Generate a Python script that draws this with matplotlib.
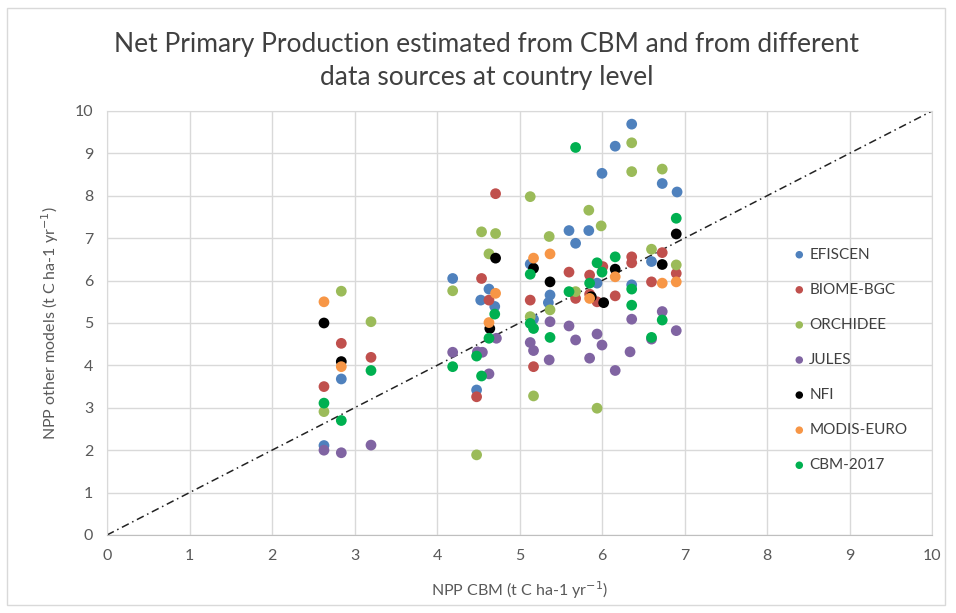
import matplotlib.pyplot as plt
from matplotlib.patches import Rectangle

plt.rcParams['font.family'] = ['Lato', 'DejaVu Sans']

# NPP CBM (x) vs NPP from other sources (y), t C ha-1 yr-1
efiscen_x = [2.63, 2.84, 4.19, 4.48, 4.53, 4.63, 4.70, 5.13, 5.17, 5.35, 5.37, 5.60, 5.68, 5.84, 5.94, 6.00, 6.16, 6.36, 6.36, 6.60, 6.73, 6.91]
efiscen_y = [2.11, 3.68, 6.05, 3.42, 5.54, 5.80, 5.39, 6.39, 5.09, 5.48, 5.66, 7.18, 6.88, 7.18, 5.94, 8.53, 9.17, 9.69, 5.90, 6.45, 8.29, 8.09]

biome_x = [2.63, 2.84, 3.20, 4.48, 4.54, 4.63, 4.71, 5.13, 5.17, 5.60, 5.68, 5.85, 5.85, 5.94, 6.01, 6.16, 6.36, 6.36, 6.60, 6.73, 6.90]
biome_y = [3.50, 4.52, 4.19, 3.26, 6.05, 5.54, 8.05, 5.54, 3.97, 6.20, 5.58, 6.13, 5.68, 5.50, 6.33, 5.64, 6.56, 6.42, 5.97, 6.66, 6.17]

orchidee_x = [2.63, 2.84, 3.20, 4.19, 4.48, 4.54, 4.63, 4.71, 5.13, 5.13, 5.17, 5.36, 5.37, 5.68, 5.84, 5.94, 5.99, 6.36, 6.36, 6.60, 6.73, 6.90]
orchidee_y = [2.91, 5.75, 5.03, 5.76, 1.89, 7.15, 6.63, 7.11, 7.98, 5.15, 3.28, 7.04, 5.31, 5.74, 7.66, 2.99, 7.29, 9.25, 8.57, 6.74, 8.63, 6.37]

jules_x = [2.63, 2.84, 3.20, 4.19, 4.49, 4.55, 4.63, 4.72, 5.13, 5.17, 5.36, 5.37, 5.60, 5.68, 5.85, 5.94, 6.00, 6.16, 6.34, 6.36, 6.60, 6.73, 6.90]
jules_y = [2.00, 1.94, 2.12, 4.31, 4.32, 4.31, 3.80, 4.64, 4.54, 4.35, 4.13, 5.03, 4.93, 4.60, 4.17, 4.74, 4.48, 3.88, 4.32, 5.09, 4.62, 5.27, 4.82]

nfi_x = [2.63, 2.84, 4.64, 4.71, 5.17, 5.37, 5.87, 6.02, 6.16, 6.73, 6.90]
nfi_y = [5.00, 4.09, 4.87, 6.53, 6.29, 5.97, 5.62, 5.48, 6.27, 6.38, 7.10]

modis_x = [2.63, 2.84, 4.63, 4.71, 5.17, 5.37, 5.85, 6.16, 6.73, 6.90]
modis_y = [5.50, 3.97, 5.01, 5.70, 6.53, 6.63, 5.58, 6.09, 5.94, 5.97]

cbm2017_x = [2.63, 2.84, 3.20, 4.19, 4.48, 4.54, 4.63, 4.70, 5.13, 5.13, 5.17, 5.37, 5.60, 5.68, 5.85, 5.94, 6.00, 6.16, 6.36, 6.36, 6.60, 6.73, 6.90]
cbm2017_y = [3.11, 2.70, 3.88, 3.97, 4.22, 3.75, 4.64, 5.21, 6.15, 4.99, 4.87, 4.66, 5.74, 9.14, 5.94, 6.42, 6.20, 6.56, 5.80, 5.42, 4.66, 5.07, 7.47]

series = [
    ('EFISCEN', efiscen_x, efiscen_y, '#4F81BD'),
    ('BIOME-BGC', biome_x, biome_y, '#C0504D'),
    ('ORCHIDEE', orchidee_x, orchidee_y, '#9BBB59'),
    ('JULES', jules_x, jules_y, '#8064A2'),
    ('NFI', nfi_x, nfi_y, '#000000'),
    ('MODIS-EURO', modis_x, modis_y, '#F79646'),
    ('CBM-2017', cbm2017_x, cbm2017_y, '#00B050'),
]

grey = '#595959'
fig = plt.figure(figsize=(9.56, 6.13), dpi=100)
ax = fig.add_axes([107/956, 1 - 535/613, 825/956, 424/613])

# chart area border
fig.patches.append(Rectangle((7/956, 8/613), 938/956, 597/613, transform=fig.transFigure,
                             fill=False, edgecolor='#D9D9D9', lw=1))

ax.plot([0, 10], [0, 10], color='#222222', lw=1.1, linestyle=(0, (5, 2.5, 1, 2.5)), zorder=2)

for name, xs, ys, col in series:
    ax.scatter(xs, ys, s=60, color=col, edgecolors='none', label=name, zorder=3)

ax.set_xlim(0, 10)
ax.set_ylim(0, 10)
ax.set_xticks(range(0, 11))
ax.set_yticks(range(0, 11))
ax.grid(True, color='#D9D9D9', lw=1)
ax.set_axisbelow(True)
for s in ax.spines.values():
    s.set_color('#D9D9D9')
ax.spines['bottom'].set_color('#BFBFBF')
ax.tick_params(length=0, labelsize=11.5, labelcolor=grey, pad=10)

ax.set_xlabel('NPP CBM (t C ha-1 yr$^{-1}$)', fontsize=11.5, color=grey, labelpad=12)
ax.set_ylabel('NPP other models (t C ha-1 yr$^{-1}$)', fontsize=11.5, color=grey, labelpad=10)

fig.text(487/956, 1 - 61/613, 'Net Primary Production estimated from CBM and from different\ndata sources at country level',
         ha='center', va='center', fontsize=19, color='#404040', linespacing=1.4)

leg = ax.legend(loc='center left', bbox_to_anchor=(784/956, 1 - 360/613), bbox_transform=fig.transFigure,
                frameon=False, fontsize=11, labelspacing=1.38, handletextpad=0.15,
                handlelength=1.0, markerscale=0.7, borderpad=0)
for t in leg.get_texts():
    t.set_color('#404040')

fig.savefig('out.png', dpi=100)
